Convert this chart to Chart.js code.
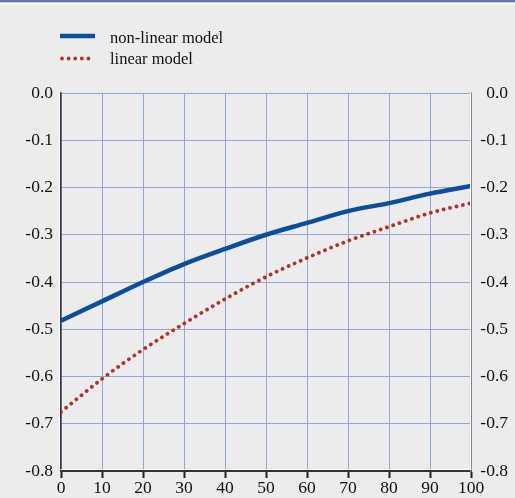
<!DOCTYPE html>
<html>
<head>
<meta charset="utf-8">
<script src="https://cdn.jsdelivr.net/npm/chart.js@4/dist/chart.umd.min.js"></script>
<style>
  html, body { margin: 0; padding: 0; background: #ececec; }
</style>
</head>
<body>
<canvas id="modelcanvas" width="515" height="498"></canvas>
<script>
// values
var horizon = [0, 10, 20, 30, 40, 50, 60, 70, 80, 90, 100];
var nonLinear = [-0.482, -0.441, -0.400, -0.362, -0.330, -0.300, -0.275, -0.250, -0.233, -0.213, -0.197];
var linear = [-0.675, -0.605, -0.543, -0.488, -0.436, -0.389, -0.349, -0.313, -0.283, -0.254, -0.233];
var seriesNames = ['non-linear model', 'linear model'];
var yMin = -0.8, yMax = 0.0, yStep = 0.1;
var xMin = 0, xMax = 100, xStep = 10;

var serif = '"Liberation Serif", "Times New Roman", serif';
var blue = '#0b4f9c';
var red = '#b0302b';
var gridBlue = '#94a3d8';

function pairs(xs, ys) {
  var out = [];
  for (var i in xs) {
    out.push({x: xs[i], y: ys[i]});
  }
  return out;
}

var backdrop = {
  id: 'backdrop',
  beforeDraw: function(chart) {
    var ctx = chart.ctx;
    ctx.save();
    ctx.fillStyle = '#ececec';
    ctx.fillRect(0, 0, chart.width, chart.height);
    ctx.fillStyle = '#6170b0';
    ctx.fillRect(0, 0, chart.width, 2.5);
    ctx.fillStyle = '#f6f6f6';
    ctx.fillRect(0, 2.5, chart.width, 2.5);
    ctx.restore();
  },
  afterDraw: function(chart) {
    var ctx = chart.ctx;
    var a = chart.chartArea;
    ctx.save();
    // legend
    var ds = chart.data.datasets;
    ctx.lineWidth = 4.5;
    ctx.strokeStyle = ds[0].borderColor;
    ctx.beginPath();
    ctx.moveTo(60, 36);
    ctx.lineTo(95, 36);
    ctx.stroke();
    ctx.lineWidth = 3.8;
    ctx.lineCap = 'round';
    ctx.setLineDash([0.01, 6.6]);
    ctx.strokeStyle = ds[1].borderColor;
    ctx.beginPath();
    ctx.moveTo(62, 58.5);
    ctx.lineTo(95, 58.5);
    ctx.stroke();
    ctx.setLineDash([]);
    ctx.fillStyle = '#111';
    ctx.font = '16.5px ' + serif;
    ctx.textBaseline = 'alphabetic';
    ctx.fillText(ds[0].label, 110, 43);
    ctx.fillText(ds[1].label, 110, 64);
    // light bevel next to the axes
    ctx.strokeStyle = '#ffffff';
    ctx.lineWidth = 1;
    ctx.beginPath();
    ctx.moveTo(a.left - 1.5, a.top);
    ctx.lineTo(a.left - 1.5, a.bottom);
    ctx.moveTo(a.right - 0.5, a.top);
    ctx.lineTo(a.right - 0.5, a.bottom - 1);
    ctx.moveTo(a.left, a.bottom - 1.5);
    ctx.lineTo(a.right, a.bottom - 1.5);
    ctx.stroke();
    ctx.restore();
  }
};

var ctx = document.getElementById('modelcanvas');
var modelChart = new Chart(ctx, {
  type: 'line',
  data: {
    datasets: [
      {
        label: seriesNames[0],
        data: pairs(horizon, nonLinear),
        borderColor: blue,
        borderWidth: 4.5,
        pointRadius: 0,
        cubicInterpolationMode: 'monotone',
        yAxisID: 'y'
      },
      {
        label: seriesNames[1],
        data: pairs(horizon, linear),
        borderColor: red,
        borderWidth: 3.8,
        borderDash: [0.01, 6.6],
        borderCapStyle: 'round',
        pointRadius: 0,
        cubicInterpolationMode: 'monotone',
        yAxisID: 'y'
      }
    ]
  },
  options: {
    responsive: false,
    animation: false,
    devicePixelRatio: 1,
    layout: { padding: { top: 93, left: 0, right: 7, bottom: 0 } },
    plugins: {
      legend: { display: false },
      tooltip: { enabled: false }
    },
    scales: {
      x: {
        type: 'linear',
        min: xMin,
        max: xMax,
        afterFit: function(s) { s.height = 27; },
        ticks: {
          stepSize: xStep,
          padding: 0,
          maxRotation: 0,
          color: '#111',
          font: { family: serif, size: 17.5 }
        },
        grid: {
          color: gridBlue,
          lineWidth: 1,
          drawTicks: true,
          tickLength: 7,
          tickColor: '#222',
          tickWidth: 2
        },
        border: { color: '#333', width: 2 }
      },
      y: {
        type: 'linear',
        position: 'left',
        min: yMin,
        max: yMax,
        afterFit: function(s) { s.width = 61; },
        ticks: {
          stepSize: yStep,
          padding: 8,
          color: '#111',
          font: { family: serif, size: 17.5 },
          callback: function(v) { return v.toFixed(1); }
        },
        grid: { color: gridBlue, lineWidth: 1, drawTicks: false },
        border: { color: '#333', width: 1.5 }
      },
      y2: {
        type: 'linear',
        position: 'right',
        min: yMin,
        max: yMax,
        afterFit: function(s) { s.width = 37; },
        ticks: {
          stepSize: yStep,
          padding: 9,
          crossAlign: 'far',
          color: '#111',
          font: { family: serif, size: 17.5 },
          callback: function(v) { return v.toFixed(1); }
        },
        grid: { display: false, drawTicks: false },
        border: { color: '#777', width: 1.5 }
      }
    }
  },
  plugins: [backdrop]
});
</script>
</body>
</html>
